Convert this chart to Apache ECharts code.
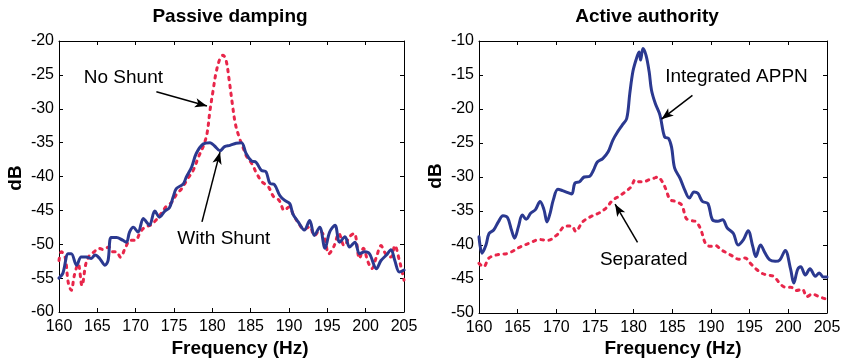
<!DOCTYPE html>
<html>
<head>
<meta charset="utf-8">
<script src="https://cdn.jsdelivr.net/npm/echarts@6/dist/echarts.min.js"></script>
<style>
html,body{margin:0;padding:0;background:#fff;}
#chart{width:846px;height:362px;}
</style>
</head>
<body>
<div id="chart"></div>
<script>
// ---- Data ----
var xTicks = [160, 165, 170, 175, 180, 185, 190, 195, 200, 205];
var passiveTicks = [-60, -55, -50, -45, -40, -35, -30, -25, -20];
var activeTicks = [-50, -45, -40, -35, -30, -25, -20, -15, -10];

var titles = ['Passive damping', 'Active authority'];
var xName = 'Frequency (Hz)';
var yName = 'dB';

// Passive damping: With Shunt (blue, solid)
var withShuntHz = [160,160.5,161.2,161.6,162.3,162.9,163.6,164.2,164.7,165.3,166.0,166.4,166.8,167.5,168.3,168.8,169.2,169.7,170.3,171.0,171.4,171.8,172.5,173.1,173.8,174.4,174.9,175.3,176.2,176.6,177.3,177.9,178.8,179.7,180.3,181.0,181.6,182.3,183.1,183.8,184.4,185.1,185.7,186.4,187.0,187.5,188.1,188.8,189.4,190.1,190.5,191.2,192.0,192.7,193.3,194.0,194.7,195.3,196.0,196.6,197.3,197.9,198.6,199.2,199.9,200.5,201.4,202.0,202.7,203.3,203.8,204.4,205];
var withShuntDb = [-55.0,-54.3,-51.4,-51.4,-53.1,-51.9,-51.9,-52.1,-51.6,-52.1,-53.1,-52.4,-49.0,-49.0,-49.4,-49.7,-48.2,-47.5,-48.2,-46.2,-46.7,-47.2,-45.1,-46.0,-45.1,-44.6,-43.0,-41.8,-41.1,-40.1,-38.6,-36.6,-35.2,-35.0,-35.5,-36.2,-35.6,-35.4,-35.1,-35.0,-36.6,-37.7,-37.9,-39.1,-39.3,-41.0,-41.2,-42.8,-43.5,-44.0,-45.5,-46.7,-47.9,-46.5,-48.7,-47.5,-50.6,-48.2,-47.2,-49.7,-48.9,-50.4,-49.7,-51.4,-51.1,-51.4,-53.6,-52.4,-51.6,-50.8,-52.4,-54.1,-53.8];

// Passive damping: No Shunt (red, dotted)
var noShuntHz = [160,160.3,160.8,161.2,161.6,162.0,162.5,163.0,163.5,164.0,164.6,165.2,165.8,166.5,167.0,167.5,168.0,168.7,169.3,170.0,170.6,171.3,171.9,172.6,173.3,174.0,174.7,175.4,176.0,176.8,177.5,178.2,178.8,179.3,179.7,180.1,180.5,181.0,181.4,181.8,182.2,182.6,183.0,183.5,184.0,184.5,185.2,185.8,186.5,187.3,188.0,188.7,189.4,190.0,190.6,191.3,192.0,192.7,193.3,194.0,194.6,195.2,195.9,196.5,197.2,197.9,198.5,199.2,199.7,200.3,200.8,201.4,202.0,202.6,203.3,203.8,204.4,204.7,205];
var noShuntDb = [-52.4,-51.1,-51.9,-55.6,-56.8,-54.6,-52.9,-56.1,-52.9,-51.6,-51.1,-50.6,-50.8,-50.4,-51.1,-51.1,-51.9,-50.4,-49.4,-49.4,-48.2,-47.4,-47.2,-46.5,-45.5,-44.4,-43.8,-42.5,-41.8,-40.3,-39.1,-37.1,-35.6,-33.7,-30.2,-27.3,-24.6,-22.6,-22.1,-22.9,-25.8,-29.2,-32.2,-34.2,-35.7,-37.1,-38.2,-39.6,-40.8,-41.5,-43.0,-43.5,-45.0,-44.5,-45.7,-47.0,-47.8,-47.4,-48.7,-48.0,-48.9,-51.4,-50.2,-48.4,-50.2,-48.9,-48.4,-52.1,-50.6,-52.6,-53.6,-51.9,-50.2,-51.4,-51.9,-50.2,-52.4,-53.8,-55.3];

// Active authority: Integrated APPN (blue, solid)
var integratedHz = [160,160.4,160.9,161.3,161.9,162.5,163.1,163.7,164.2,164.6,165.1,165.6,166.1,166.7,167.3,167.9,168.4,168.8,169.2,169.6,170.2,170.8,171.5,172.0,172.4,173.0,173.6,174.3,174.8,175.3,176.0,176.7,177.3,177.9,178.5,179.1,179.5,179.9,180.3,180.7,180.9,181.2,181.6,182.0,182.3,182.8,183.4,184.0,184.5,184.9,185.3,186.0,186.6,187.2,187.8,188.3,188.9,189.6,190.2,190.9,191.5,192.1,192.9,193.5,194.2,194.8,195.4,195.8,196.4,197.0,197.6,198.3,198.9,199.6,200.3,200.7,201.2,201.6,202.2,202.8,203.5,204.0,204.5,205];
var integratedDb = [-38.8,-41.2,-40.0,-38.3,-37.8,-36.6,-35.7,-36.0,-37.8,-39.0,-37.3,-35.6,-36.2,-35.3,-34.8,-33.6,-34.8,-36.6,-35.3,-33.4,-31.8,-32.0,-32.3,-32.5,-30.9,-30.7,-30.0,-29.9,-29.0,-27.8,-27.3,-26.3,-24.6,-23.4,-22.4,-21.4,-17.7,-14.5,-12.8,-11.6,-12.8,-11.1,-12.1,-14.5,-17.2,-19.2,-20.9,-24.1,-24.3,-25.6,-28.7,-30.2,-31.9,-33.1,-32.2,-32.4,-33.6,-33.9,-36.3,-36.5,-36.3,-37.5,-38.3,-40.0,-39.2,-37.9,-40.2,-41.7,-40.0,-41.2,-42.2,-42.4,-42.2,-40.8,-43.6,-45.6,-43.6,-43.2,-44.4,-43.5,-44.6,-44.1,-44.7,-44.7];

// Active authority: Separated (red, dotted)
var separatedHz = [160,160.6,161.3,162.5,163.8,165.3,166.6,167.8,168.9,170.1,171.2,172.0,172.5,173.4,174.5,175.5,176.4,177.3,178.0,178.9,179.7,180.2,180.7,181.3,182.0,182.6,183.1,183.7,184.2,184.7,185.4,186.2,186.8,187.4,188.1,188.7,189.3,189.9,190.6,191.3,192.1,192.9,193.6,194.4,195.1,195.7,196.5,197.2,198.1,198.8,199.6,200.3,201.0,201.8,202.4,203.1,203.8,204.5,205];
var separatedDb = [-42.7,-43.2,-41.9,-41.4,-41.2,-40.3,-39.7,-39.2,-39.3,-38.5,-37.2,-37.2,-38.0,-36.6,-35.8,-35.3,-34.6,-33.4,-32.9,-32.2,-31.4,-30.4,-30.7,-30.7,-30.4,-30.2,-30.0,-30.7,-31.9,-33.3,-33.6,-34.1,-36.1,-36.4,-36.6,-37.8,-39.8,-40.2,-40.1,-40.7,-41.2,-41.7,-42.1,-41.9,-42.7,-43.4,-44.1,-44.4,-44.6,-45.5,-46.2,-46.2,-46.7,-46.5,-47.6,-47.2,-47.5,-47.8,-48.0];

var seriesNames = ['No Shunt', 'With Shunt', 'Separated', 'Integrated APPN'];

// ---- Build chart ----
function zip(xs, ys) { return xs.map(function (x, i) { return [x, ys[i]]; }); }

var FONT = '"Liberation Sans", Arial, Helvetica, sans-serif';
var BLUE = '#2B3990';
var RED = '#E8264A';

function makeX(gridIndex, pos, showLabels) {
  return {
    type: 'value', gridIndex: gridIndex, position: pos,
    min: xTicks[0], max: xTicks[xTicks.length - 1], interval: xTicks[1] - xTicks[0],
    axisLine: { show: true, onZero: false, lineStyle: { color: '#000', width: 1 } },
    axisTick: { show: true, inside: true, length: 4, lineStyle: { color: '#000' } },
    axisLabel: { show: showLabels, color: '#000', fontSize: 16, fontFamily: FONT, margin: 7, showMinLabel: true, showMaxLabel: true },
    splitLine: { show: false }
  };
}
function makeY(gridIndex, pos, ticks, showLabels) {
  return {
    type: 'value', gridIndex: gridIndex, position: pos,
    min: ticks[0], max: ticks[ticks.length - 1], interval: ticks[1] - ticks[0],
    axisLine: { show: true, onZero: false, lineStyle: { color: '#000', width: 1 } },
    axisTick: { show: true, inside: true, length: 4, lineStyle: { color: '#000' } },
    axisLabel: { show: showLabels, color: '#000', fontSize: 16, fontFamily: FONT, margin: 5, showMinLabel: true, showMaxLabel: true },
    splitLine: { show: false }
  };
}

function arrow(from, to) {
  return [
    { coord: from, symbol: 'none' },
    { coord: to, symbol: 'arrow', symbolSize: [7, 12] }
  ];
}
function annotationLabel(coord, text) {
  return { coord: coord, name: text, value: text };
}

function lineSeries(name, xi, yi, data, color, dotted, ann) {
  var s = {
    name: name, type: 'line', xAxisIndex: xi, yAxisIndex: yi,
    data: data, smooth: 0.35, symbol: 'none', showSymbol: false,
    lineStyle: dotted
      ? { color: color, width: 3, type: [2.5, 5.5], cap: 'round' }
      : { color: color, width: 3, cap: 'round', join: 'round' },
    itemStyle: { color: color },
    z: dotted ? 2 : 3,
    animation: false
  };
  if (ann) {
    s.markLine = {
      silent: true, animation: false,
      symbol: ['none', 'arrow'],
      label: { show: false },
      lineStyle: { color: '#000', width: 1.5, type: 'solid' },
      emphasis: { disabled: true },
      data: [arrow(ann.from, ann.to)]
    };
    s.markPoint = {
      silent: true, animation: false,
      symbol: 'circle', symbolSize: 1,
      itemStyle: { color: 'rgba(0,0,0,0)' },
      label: { show: true, position: 'inside', color: '#000', fontSize: 19, fontFamily: FONT,
               formatter: function (p) { return p.name; } },
      data: [annotationLabel(ann.at, ann.text)]
    };
  }
  return s;
}

var chart = echarts.init(document.getElementById('chart'), null, { renderer: 'canvas' });

var option = {
  backgroundColor: '#fff',
  animation: false,
  grid: [
    { left: 59, top: 41, width: 345, height: 271 },
    { left: 479, top: 41, width: 348, height: 272 }
  ],
  xAxis: [
    makeX(0, 'bottom', true), makeX(0, 'top', false),
    makeX(1, 'bottom', true), makeX(1, 'top', false)
  ],
  yAxis: [
    makeY(0, 'left', passiveTicks, true), makeY(0, 'right', passiveTicks, false),
    makeY(1, 'left', activeTicks, true), makeY(1, 'right', activeTicks, false)
  ],
  graphic: [
    { type: 'text', x: 230, y: 17, style: { text: titles[0], font: 'bold 19px ' + FONT, fill: '#000', align: 'center', verticalAlign: 'middle' } },
    { type: 'text', x: 647, y: 17, style: { text: titles[1], font: 'bold 19px ' + FONT, fill: '#000', align: 'center', verticalAlign: 'middle' } },
    { type: 'text', x: 240, y: 349, style: { text: xName, font: 'bold 19px ' + FONT, fill: '#000', align: 'center', verticalAlign: 'middle' } },
    { type: 'text', x: 673, y: 349, style: { text: xName, font: 'bold 19px ' + FONT, fill: '#000', align: 'center', verticalAlign: 'middle' } },
    { type: 'text', x: 16, y: 178, rotation: Math.PI / 2, style: { text: yName, font: 'bold 19px ' + FONT, fill: '#000', align: 'center', verticalAlign: 'middle' } },
    { type: 'text', x: 436, y: 176, rotation: Math.PI / 2, style: { text: yName, font: 'bold 19px ' + FONT, fill: '#000', align: 'center', verticalAlign: 'middle' } }
  ],
  series: [
    lineSeries(seriesNames[0], 0, 0, zip(noShuntHz, noShuntDb), RED, true,
      { from: [172.7, -27.5], to: [179.3, -29.6], at: [168.4, -25.4], text: seriesNames[0] }),
    lineSeries(seriesNames[1], 0, 0, zip(withShuntHz, withShuntDb), BLUE, false,
      { from: [178.65, -46.7], to: [181.0, -36.4], at: [181.5, -49.2], text: seriesNames[1] }),
    lineSeries(seriesNames[2], 2, 2, zip(separatedHz, separatedDb), RED, true,
      { from: [180.5, -39.6], to: [177.6, -34.0], at: [181.3, -42.1], text: seriesNames[2] }),
    lineSeries(seriesNames[3], 2, 2, zip(integratedHz, integratedDb), BLUE, false,
      { from: [187.6, -18.0], to: [183.6, -21.5], at: [193.3, -15.3], text: seriesNames[3] })
  ]
};
chart.setOption(option);
</script>
</body>
</html>
